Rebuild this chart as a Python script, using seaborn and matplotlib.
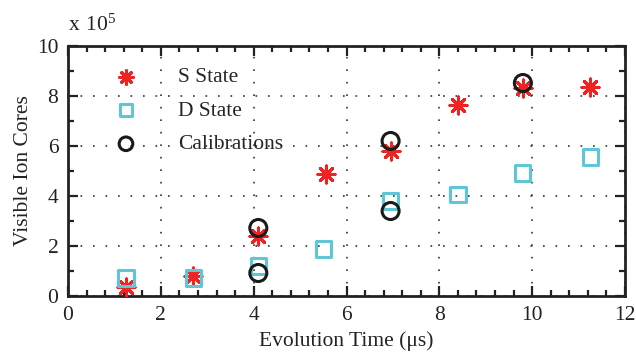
import matplotlib
matplotlib.use("Agg")
import matplotlib.pyplot as plt
import seaborn as sns
from matplotlib.ticker import MultipleLocator

# evolution time (us) and counts (in units of 1e5)
s_time = [1.25, 2.7, 4.1, 5.55, 6.95, 8.4, 9.8, 11.25]
s_counts = [0.38, 0.82, 2.42, 4.88, 5.82, 7.65, 8.3, 8.36]

d_time = [1.25, 2.7, 4.1, 5.5, 6.95, 8.4, 9.8, 11.25]
d_counts = [0.72, 0.72, 1.2, 1.88, 3.8, 4.06, 4.92, 5.56]

cal_time = [4.1, 4.1, 6.95, 6.95, 9.8]
cal_counts = [2.72, 0.92, 6.2, 3.4, 8.52]

sns.set_style("ticks")
plt.rcParams['font.family'] = ['Liberation Serif', 'DejaVu Serif']
plt.rcParams['mathtext.fontset'] = 'custom'
plt.rcParams['mathtext.rm'] = 'Liberation Serif'

fig = plt.figure(figsize=(6.36, 3.55), dpi=100)
ax = fig.add_axes([68/636, 1 - 296/355, 557/636, 250/355])

rojo = '#ee2424'
cian = '#5fc6d6'
negro = '#1a1a1a'
fs = 15.5

sns.scatterplot(x=s_time, y=s_counts, marker=(8, 2, 0), s=150, color=rojo,
                linewidth=2.2, ax=ax, label='S State', zorder=3)
sns.scatterplot(x=d_time, y=d_counts, marker='s', s=120, facecolors='none',
                edgecolors=cian, linewidths=2.2, ax=ax, label='D State', zorder=3)
sns.scatterplot(x=cal_time, y=cal_counts, marker='o', s=150, facecolors='none',
                edgecolors=negro, linewidths=2.2, ax=ax, label='Calibrations', zorder=4)

ax.set_xlim(0, 12)
ax.set_ylim(0, 10)
ax.xaxis.set_major_locator(MultipleLocator(2))
ax.xaxis.set_minor_locator(MultipleLocator(0.4))
ax.yaxis.set_major_locator(MultipleLocator(2))
ax.yaxis.set_minor_locator(MultipleLocator(1))
ax.tick_params(which='both', direction='in', top=True, right=True,
               labelsize=fs, colors='#222222', width=1.6, pad=7)
ax.tick_params(which='major', length=7)
ax.tick_params(which='minor', length=4)
for sp in ax.spines.values():
    sp.set_linewidth(2)
    sp.set_color('#222222')

ax.grid(True, which='major', linestyle=(0, (1, 6.5)), color='#333333', linewidth=1.2)

ax.set_xlabel('Evolution Time (μs)', fontsize=fs, color='#222222', labelpad=5)
ax.set_ylabel('Visible Ion Cores', fontsize=fs, color='#222222', labelpad=3)
ax.text(0, 1.04, r'$\mathregular{x\ 10^{5}}$', transform=ax.transAxes,
        fontsize=fs, color='#222222', va='bottom')

ax.legend(loc='upper left', bbox_to_anchor=(0.05, 0.95), frameon=False,
          fontsize=fs, handletextpad=1.4, labelspacing=0.63, borderaxespad=0,
          markerscale=0.8)

plt.savefig('out.png', dpi=100)
plt.close()
